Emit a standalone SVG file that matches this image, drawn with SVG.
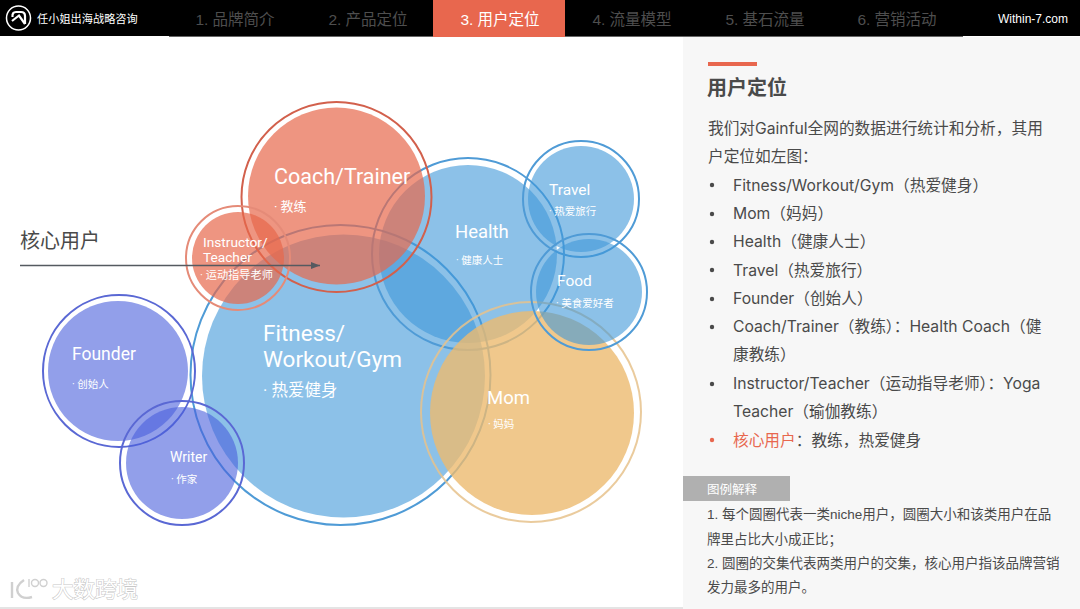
<svg xmlns="http://www.w3.org/2000/svg" width="1080" height="609" viewBox="0 0 1080 609">
<defs>
<style>
text{font-family:"Liberation Sans","Noto Sans CJK SC",sans-serif}
.lab{font-family:Roboto,"Noto Sans CJK SC",sans-serif;fill:#fff}
.nav{font-size:15.500px;fill:#4e4e4e;text-anchor:middle;font-family:"Liberation Sans","Noto Sans CJK SC",sans-serif}
.body{font-size:15.700px;fill:#4a4a4a;font-family:Inter,"Noto Sans CJK SC",sans-serif}
.note{font-size:13.500px;fill:#4a4a4a}
.blue{fill:#3f98d9;fill-opacity:.6;stroke:none}
.red{fill:#e7684c;fill-opacity:.7;stroke:none}
.pur{fill:#495fdc;fill-opacity:.6;stroke:none}
.ring{fill:none;stroke-width:2}
.rb{stroke:#4f9bd6}
.rp{stroke:#5a68d4}
</style>
<marker id="arr" markerWidth="10" markerHeight="8" refX="9" refY="3.500" orient="auto" markerUnits="userSpaceOnUse"><path d="M0 0L9 3.500L0 7z" fill="#555a60"/></marker>
</defs>
<rect width="1080" height="609" fill="#fff"/>
<rect x="683" y="37" width="397" height="572" fill="#f7f7f7"/>
<rect y="607" width="683" height="2" fill="#e4e4e4"/>
<g id="header">
<rect width="1080" height="36" fill="#000"/>
<rect x="169" y="36" width="794" height="1" fill="#666"/>
<rect x="433" y="0" width="132" height="37" fill="#e8674e"/>
<g id="logo" fill="none" stroke="#fff"><circle cx="18.500" cy="18" r="12" stroke-width="1.500"/><path d="M12.500 17Q12 12 16 12H21Q25 12 25 16V24" stroke-width="2.200"/><path d="M12 21L19 15.500L25 24" stroke-width="2.200"/></g>
<text x="37" y="23" font-size="11.200" fill="#fff">任小姐出海战略咨询</text>
<text class="nav" x="235" y="25">1. 品牌简介</text>
<text class="nav" x="368" y="25">2. 产品定位</text>
<text class="nav" x="500" y="25" style="fill:#fff">3. 用户定位</text>
<text class="nav" x="632" y="25">4. 流量模型</text>
<text class="nav" x="765" y="25">5. 基石流量</text>
<text class="nav" x="897" y="25">6. 营销活动</text>
<text x="1033" y="23" font-size="12" fill="#fff" text-anchor="middle">Within-7.com</text>
</g>
<g id="node-fitness"><circle class="blue" cx="343.500" cy="376" r="141.500"/><circle class="ring rb" cx="340.500" cy="375" r="150"/></g>
<g id="node-health"><circle class="blue" cx="468" cy="254" r="89"/><circle class="ring rb" cx="468" cy="254" r="96"/></g>
<g id="node-mom"><circle cx="532" cy="413" r="102" fill="#ecba6f" fill-opacity=".8"/><circle class="ring" cx="531" cy="412" r="110" stroke="#e6c28c" stroke-opacity=".85"/></g>
<g id="node-travel"><circle class="blue" cx="581" cy="199" r="53"/><circle class="ring rb" cx="581" cy="199" r="58"/></g>
<g id="node-food"><circle class="blue" cx="589" cy="292" r="53"/><circle class="ring rb" cx="589" cy="292" r="58"/></g>
<g id="node-coach"><circle class="red" cx="336.500" cy="196" r="88.500"/><circle class="ring" cx="336.500" cy="197" r="95" stroke="#d2604c"/></g>
<g id="node-instructor"><circle class="red" cx="238" cy="258" r="46"/><circle class="ring" cx="238" cy="258" r="52" stroke="#e58b78"/></g>
<g id="node-founder"><circle class="pur" cx="118" cy="371" r="70"/><circle class="ring rp" cx="119" cy="371" r="76"/></g>
<g id="node-writer"><circle class="pur" cx="182" cy="463" r="56"/><circle class="ring rp" cx="182" cy="463" r="62"/></g>
<g id="labels">
<text class="lab" x="263" y="341" font-size="22.500">Fitness/</text>
<text class="lab" x="263" y="367" font-size="22.500">Workout/Gym</text>
<text class="lab" x="263" y="396" font-size="16.500">· 热爱健身</text>
<text class="lab" x="274" y="184" font-size="21.500">Coach/Trainer</text>
<text class="lab" x="274" y="211" font-size="13">· 教练</text>
<text class="lab" x="203" y="247" font-size="13.700">Instructor/</text>
<text class="lab" x="203" y="262" font-size="13.700">Teacher</text>
<text class="lab" x="200" y="279" font-size="11.200">· 运动指导老师</text>
<text class="lab" x="455" y="238" font-size="18.500">Health</text>
<text class="lab" x="456" y="264" font-size="10.500">· 健康人士</text>
<text class="lab" x="549" y="195" font-size="15.500">Travel</text>
<text class="lab" x="549" y="215" font-size="10.500">· 热爱旅行</text>
<text class="lab" x="557" y="286" font-size="15.500">Food</text>
<text class="lab" x="556" y="307" font-size="10.500">· 美食爱好者</text>
<text class="lab" x="487" y="404" font-size="18.500">Mom</text>
<text class="lab" x="488" y="428" font-size="10.500">· 妈妈</text>
<text class="lab" x="72" y="360" font-size="17.500">Founder</text>
<text class="lab" x="72" y="388" font-size="10.500">· 创始人</text>
<text class="lab" x="170" y="462" font-size="14">Writer</text>
<text class="lab" x="171" y="483" font-size="10.500">· 作家</text>
</g>
<g id="connectors"><line x1="20" y1="265.500" x2="320" y2="265.500" stroke="#555a60" stroke-width="1.700" marker-end="url(#arr)"/></g>
<text x="20" y="248" font-size="20" fill="#4a4a4a">核心用户</text>
<g id="watermark">
<g fill="none" stroke="#d0d0d0" stroke-width="2.400"><path d="M12 582V598"/><path d="M24 580Q15 586 18 593Q22 600 32 597"/><path d="M29 579V587" stroke-width="1.400"/><circle cx="35" cy="583" r="3.500" stroke-width="1.400"/><circle cx="43.500" cy="583" r="3.500" stroke-width="1.400"/></g>
<text x="52" y="597" font-size="21.500" fill="#fff" stroke="#c8c8c8" stroke-width="1.100" paint-order="stroke">大数跨境</text>
</g>
<g id="panel">
<rect x="708" y="62" width="49" height="4" fill="#e8674e"/>
<text x="707" y="95" font-size="20" font-weight="700" fill="#4a4a4a">用户定位</text>
<text class="body" x="708" y="134">我们对Gainful全网的数据进行统计和分析，其用</text>
<text class="body" x="708" y="162">户定位如左图：</text>
<g id="bullets">
<circle cx="712" cy="185" r="2.200" fill="#4a4a4a"/><text class="body" x="733" y="191">Fitness/Workout/Gym（热爱健身）</text>
<circle cx="712" cy="214" r="2.200" fill="#4a4a4a"/><text class="body" x="733" y="219">Mom（妈妈）</text>
<circle cx="712" cy="242" r="2.200" fill="#4a4a4a"/><text class="body" x="733" y="247">Health（健康人士）</text>
<circle cx="712" cy="270" r="2.200" fill="#4a4a4a"/><text class="body" x="733" y="276">Travel（热爱旅行）</text>
<circle cx="712" cy="299" r="2.200" fill="#4a4a4a"/><text class="body" x="733" y="304">Founder（创始人）</text>
<circle cx="712" cy="327" r="2.200" fill="#4a4a4a"/><text class="body" x="733" y="332">Coach/Trainer（教练）：Health Coach（健</text>
<text class="body" x="733" y="360">康教练）</text>
<circle cx="712" cy="384" r="2.200" fill="#4a4a4a"/><text class="body" x="733" y="389">Instructor/Teacher（运动指导老师）：Yoga</text>
<text class="body" x="733" y="417">Teacher（瑜伽教练）</text>
<circle cx="712" cy="440" r="2.200" fill="#e8674e"/><text class="body" x="733" y="446"><tspan fill="#e8674e">核心用户</tspan>：教练，热爱健身</text>
</g>
<rect x="683" y="476" width="107" height="25" fill="#b0b0b0"/>
<text x="707" y="494" font-size="12.500" fill="#fff">图例解释</text>
<text class="note" x="707" y="519">1. 每个圆圈代表一类niche用户，圆圈大小和该类用户在品</text>
<text class="note" x="707" y="544">牌里占比大小成正比；</text>
<text class="note" x="707" y="568">2. 圆圈的交集代表两类用户的交集，核心用户指该品牌营销</text>
<text class="note" x="707" y="592">发力最多的用户。</text>
</g>
</svg>
